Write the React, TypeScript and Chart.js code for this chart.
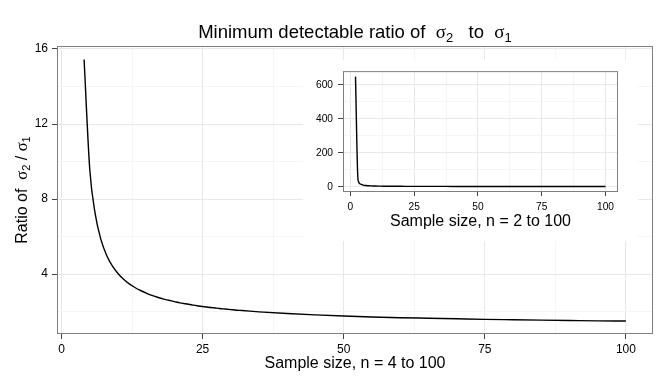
import React, { useEffect, useRef } from "react";
import { Chart, registerables } from "chart.js";

Chart.register(...registerables);

const SANS = '"Liberation Sans", Arial, Helvetica, sans-serif';
const SERIF = '"Liberation Serif", "Times New Roman", serif';

// ---- data ----
const mainSampleSizes = [
  4, 5, 6, 7, 8, 9, 10, 11, 12, 13, 14, 15, 16, 17, 18, 19, 20, 21, 22, 23, 24, 25, 26, 27, 28,
  29, 30, 31, 32, 35, 40, 45, 50, 55, 60, 65, 70, 75, 80, 85, 90, 95, 100,
];
const mainRatios = [
  15.44, 9.6, 7.15, 5.82, 4.99, 4.43, 4.03, 3.72, 3.47, 3.28, 3.12, 2.98, 2.86, 2.76, 2.67, 2.6,
  2.53, 2.46, 2.41, 2.36, 2.31, 2.27, 2.23, 2.2, 2.16, 2.13, 2.1, 2.07, 2.05, 1.98, 1.89, 1.82,
  1.76, 1.71, 1.67, 1.64, 1.61, 1.58, 1.56, 1.54, 1.52, 1.5, 1.49,
];
const insetSampleSizes = [2, 3, ...mainSampleSizes];
const insetRatios = [647.8, 39.0, ...mainRatios];

const mainXMajor = [0, 25, 50, 75, 100];
const mainXMinor = [12.5, 37.5, 62.5, 87.5];
const mainYMajor = [4, 8, 12, 16];
const mainYMinor = [2, 6, 10, 14];
const insetXMajor = [0, 25, 50, 75, 100];
const insetXMinor = [12.5, 37.5, 62.5, 87.5];
const insetYMajor = [0, 200, 400, 600];
const insetYMinor = [100, 300, 500];

const MAJOR_GRID = "#E8E8E8";
const MINOR_GRID = "#F5F5F5";
const TICK_COLOR = "#444444";
const BORDER_COLOR = "#7F7F7F";

type Piece = { text: string; font: string; dy?: number };

function drawPieces(
  ctx: CanvasRenderingContext2D,
  pieces: Piece[],
  cx: number,
  baseline: number,
  rotated: boolean
) {
  ctx.save();
  ctx.translate(cx, baseline);
  if (rotated) ctx.rotate(-Math.PI / 2);
  ctx.textAlign = "left";
  ctx.textBaseline = "alphabetic";
  ctx.fillStyle = "#000";
  let total = 0;
  const widths = pieces.map((p) => {
    ctx.font = p.font;
    const w = ctx.measureText(p.text).width;
    total += w;
    return w;
  });
  let x = -total / 2;
  pieces.forEach((p, i) => {
    ctx.font = p.font;
    ctx.fillText(p.text, x, p.dy || 0);
    x += widths[i];
  });
  ctx.restore();
}

function makeAxis(
  min: number,
  max: number,
  major: number[],
  minor: number[],
  fontSize: number,
  tickLen: number,
  pad: number,
  fitSize: number,
  isX: boolean
) {
  const all = [...major, ...minor].sort((a, b) => a - b);
  return {
    type: "linear" as const,
    min,
    max,
    afterBuildTicks: (s: any) => {
      s.ticks = all.map((v) => ({ value: v }));
    },
    afterFit: (s: any) => {
      if (isX) s.height = fitSize;
      else s.width = fitSize;
    },
    grid: {
      color: (c: any) => (c.tick && major.includes(c.tick.value) ? MAJOR_GRID : MINOR_GRID),
      tickColor: (c: any) =>
        c.tick && major.includes(c.tick.value) ? TICK_COLOR : "rgba(0,0,0,0)",
      lineWidth: 1,
      tickWidth: 1,
      tickLength: tickLen,
      drawTicks: true,
      drawOnChartArea: true,
    },
    border: { display: false },
    ticks: {
      autoSkip: false,
      maxRotation: 0,
      minRotation: 0,
      padding: pad,
      color: "#000",
      font: { family: SANS, size: fontSize },
      callback: (v: any) => (major.includes(Number(v)) ? String(v) : ""),
    },
  };
}

function panelBorder(chart: any) {
  const { ctx, chartArea } = chart;
  ctx.save();
  ctx.strokeStyle = BORDER_COLOR;
  ctx.lineWidth = 1;
  ctx.strokeRect(
    chartArea.left + 0.5,
    chartArea.top + 0.5,
    chartArea.right - chartArea.left - 1,
    chartArea.bottom - chartArea.top - 1
  );
  ctx.restore();
}

export default function App() {
  const mainRef = useRef<HTMLCanvasElement>(null);
  const insetRef = useRef<HTMLCanvasElement>(null);

  useEffect(() => {
    const mainChart = new Chart(mainRef.current as HTMLCanvasElement, {
      type: "line",
      data: {
        datasets: [
          {
            data: mainSampleSizes.map((n, i) => ({ x: n, y: mainRatios[i] })),
            borderColor: "#000",
            borderWidth: 1.4,
            pointRadius: 0,
            cubicInterpolationMode: "monotone",
            fill: false,
          },
        ],
      },
      options: {
        responsive: false,
        animation: false,
        devicePixelRatio: 1,
        events: [],
        layout: { padding: { left: 0, right: 19, top: 46, bottom: 0 } },
        scales: {
          x: makeAxis(-0.8, 104.8, mainXMajor, mainXMinor, 12, 5, 3, 50, true) as any,
          y: makeAxis(0.8, 16.16, mainYMajor, mainYMinor, 12, 5, 4, 57, false) as any,
        },
        plugins: { legend: { display: false }, tooltip: { enabled: false }, title: { display: false } },
      },
      plugins: [
        {
          id: "mainText",
          afterDraw(chart: any) {
            panelBorder(chart);
            const ctx = chart.ctx;
            drawPieces(
              ctx,
              [
                { text: "Minimum detectable ratio of  ", font: `18.5px ${SANS}` },
                { text: "σ", font: `19px ${SERIF}` },
                { text: "2", font: `13px ${SANS}`, dy: 4 },
                { text: "   to  ", font: `18.5px ${SANS}` },
                { text: "σ", font: `19px ${SERIF}` },
                { text: "1", font: `13px ${SANS}`, dy: 4 },
              ],
              355,
              38,
              false
            );
            drawPieces(
              ctx,
              [
                { text: "Ratio of  ", font: `16px ${SANS}` },
                { text: "σ", font: `16.5px ${SERIF}` },
                { text: "2", font: `11px ${SANS}`, dy: 3.5 },
                { text: " / ", font: `16px ${SANS}` },
                { text: "σ", font: `16.5px ${SERIF}` },
                { text: "1", font: `11px ${SANS}`, dy: 3.5 },
              ],
              26.7,
              190,
              true
            );
            drawPieces(ctx, [{ text: "Sample size, n = 4 to 100", font: `16px ${SANS}` }], 355, 368.3, false);
          },
        },
      ],
    });

    const insetChart = new Chart(insetRef.current as HTMLCanvasElement, {
      type: "line",
      data: {
        datasets: [
          {
            data: insetSampleSizes.map((n, i) => ({ x: n, y: insetRatios[i] })),
            borderColor: "#000",
            borderWidth: 1.4,
            pointRadius: 0,
            cubicInterpolationMode: "monotone",
            fill: false,
          },
        ],
      },
      options: {
        responsive: false,
        animation: false,
        devicePixelRatio: 1,
        events: [],
        layout: { padding: { left: 0, right: 20, top: 9, bottom: 0 } },
        scales: {
          x: makeAxis(-2.9, 104.9, insetXMajor, insetXMinor, 10.2, 4, 5.5, 49, true) as any,
          y: makeAxis(-30.9, 680.1, insetYMajor, insetYMinor, 10.2, 5, 5, 40, false) as any,
        },
        plugins: { legend: { display: false }, tooltip: { enabled: false }, title: { display: false } },
      },
      plugins: [
        {
          id: "insetText",
          beforeDraw(chart: any) {
            const ctx = chart.ctx;
            ctx.save();
            ctx.fillStyle = "#fff";
            ctx.fillRect(0, 0, chart.width, chart.height);
            ctx.restore();
          },
          afterDraw(chart: any) {
            panelBorder(chart);
            drawPieces(chart.ctx, [{ text: "Sample size, n = 2 to 100", font: `16px ${SANS}` }], 177.5, 166, false);
          },
        },
      ],
    });

    return () => {
      mainChart.destroy();
      insetChart.destroy();
    };
  }, []);

  return (
    <div style={{ position: "fixed", left: 0, top: 0, width: 672, height: 384, background: "#fff" }}>
      <canvas
        ref={mainRef}
        width={672}
        height={384}
        style={{ position: "absolute", left: 0, top: 0 }}
      />
      <canvas
        ref={insetRef}
        width={335}
        height={181}
        style={{ position: "absolute", left: 303, top: 60 }}
      />
    </div>
  );
}
